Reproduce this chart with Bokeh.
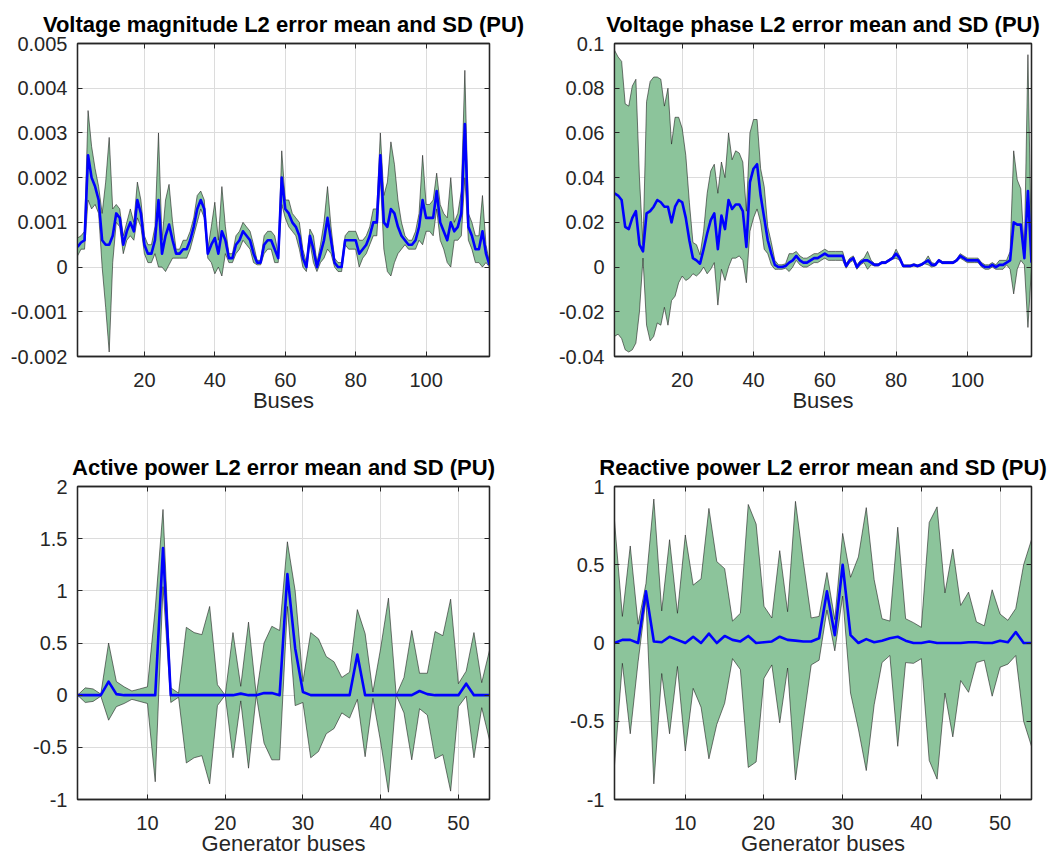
import numpy as np
from bokeh.plotting import figure
from bokeh.layouts import gridplot
from bokeh.models import FixedTicker, LinearAxis, Range1d
from bokeh.embed import file_html
from bokeh.resources import INLINE

# ---------------- data ----------------
buses = list(range(1, 119))
gen_buses = list(range(1, 55))

vm_mean = [0.00045, 0.00055, 0.0006, 0.0025, 0.002, 0.0018, 0.0015, 0.0006, 0.0005, 0.0005,
           0.0007, 0.0012, 0.0011, 0.0005, 0.0008, 0.001, 0.0008, 0.0015, 0.0012, 0.0005,
           0.0003, 0.0003, 0.0006, 0.0015, 0.0003, 0.0007, 0.00095, 0.0006, 0.0003, 0.0003,
           0.0004, 0.0004, 0.0006, 0.0009, 0.0013, 0.0015, 0.0013, 0.0003, 0.0005, 0.00065,
           0.0003, 0.0008, 0.0006, 0.0002, 0.0002, 0.0005, 0.0006, 0.0008, 0.0007, 0.0006,
           0.0003, 0.0001, 0.0001, 0.0005, 0.0006, 0.0006, 0.0004, 0.0002, 0.002, 0.0013,
           0.0012, 0.001, 0.0009, 0.0007, 0.0002, 0.0, 0.0007, 0.0004, 0.0, 0.0003,
           0.0006, 0.0011, 0.0006, 0.0001, 0.0, 0.0, 0.0006, 0.0006, 0.0006, 0.0006,
           0.0003, 0.0004, 0.0005, 0.0007, 0.001, 0.001, 0.0025, 0.001, 0.0009, 0.0013,
           0.0012, 0.0009, 0.0007, 0.0006, 0.0005, 0.0005, 0.0006, 0.0009, 0.0015, 0.0011,
           0.0011, 0.0011, 0.0017, 0.001, 0.0008, 0.0006, 0.001, 0.0008, 0.0009, 0.0012,
           0.0032, 0.0009, 0.0007, 0.0004, 0.0004, 0.0008, 0.0003, 0.00005]
vm_sd = [0.0002, 0.00015, 0.0002, 0.001, 0.0007, 0.0004, 0.0003, 0.0006, 0.0014, 0.0024,
         0.0006, 0.0002, 0.0002, 0.0002, 0.0002, 0.0003, 0.0002, 0.0004, 0.0003, 0.0002,
         0.0002, 0.0002, 0.0003, 0.0015, 0.0003, 0.0008, 0.0009, 0.0004, 0.0001, 0.0001,
         0.0002, 0.0002, 0.0002, 0.0002, 0.0003, 0.0002, 0.0002, 0.0001, 0.0004, 0.0008,
         0.0003, 0.001, 0.0003, 0.0001, 0.0001, 0.0002, 0.0002, 0.0002, 0.0002, 0.0002,
         0.0002, 0.00005, 0.00005, 0.0002, 0.0002, 0.0002, 0.0003, 0.0001, 0.0006, 0.0002,
         0.0003, 0.0002, 0.0002, 0.0003, 0.0002, 0.0001, 0.00015, 0.0003, 0.0001, 0.0002,
         0.0004, 0.0007, 0.0003, 0.0001, 0.0001, 0.0001, 0.0001, 0.0002, 0.0002, 0.0002,
         0.0003, 0.0002, 0.0002, 0.0002, 0.0003, 0.0003, 0.0005, 0.0006, 0.001, 0.0015,
         0.0011, 0.0006, 0.0003, 0.0001, 0.0001, 0.0001, 0.0002, 0.0003, 0.001, 0.0003,
         0.0003, 0.0004, 0.0004, 0.0004, 0.0004, 0.0005, 0.001, 0.0002, 0.0003, 0.0005,
         0.0012, 0.0003, 0.0003, 0.0003, 0.0003, 0.0008, 0.0002, 0.00005]

vp_mean = [0.033, 0.032, 0.03, 0.018, 0.017, 0.022, 0.025, 0.01, 0.007, 0.024,
           0.025, 0.027, 0.03, 0.029, 0.027, 0.027, 0.02, 0.027, 0.03, 0.029,
           0.022, 0.012, 0.004, 0.003, 0.0015, 0.008, 0.015, 0.021, 0.024, 0.008,
           0.023, 0.017, 0.03, 0.026, 0.028, 0.028, 0.025, 0.009, 0.038, 0.044,
           0.046, 0.032, 0.022, 0.012, 0.006, 0.001, 0.0, 0.0, 0.0005, 0.002,
           0.003, 0.005, 0.003, 0.002, 0.002, 0.003, 0.004, 0.004, 0.005, 0.006,
           0.005, 0.005, 0.005, 0.005, 0.005, 0.0005, 0.003, 0.004, 0.0, 0.002,
           0.003, 0.003, 0.002, 0.001, 0.001, 0.002, 0.002, 0.003, 0.004, 0.006,
           0.004, 0.0005, 0.0005, 0.0005, 0.001, 0.0005, 0.001, 0.002, 0.003, 0.001,
           0.001, 0.003, 0.002, 0.002, 0.002, 0.002, 0.003, 0.005, 0.004, 0.003,
           0.003, 0.003, 0.003, 0.001, 0.0, 0.0, 0.001, 0.0, 0.001, 0.001,
           0.002, 0.003, 0.02, 0.019, 0.019, 0.004, 0.034, 0.002]
vp_sd = [0.064, 0.062, 0.062, 0.055, 0.055, 0.059, 0.059, 0.03, 0.003, 0.05,
         0.058, 0.058, 0.055, 0.055, 0.045, 0.053, 0.035, 0.04, 0.037, 0.033,
         0.028, 0.017, 0.007, 0.007, 0.004, 0.008, 0.018, 0.022, 0.022, 0.025,
         0.024, 0.023, 0.03, 0.022, 0.024, 0.023, 0.022, 0.016, 0.022, 0.022,
         0.02, 0.012, 0.014, 0.006, 0.005, 0.002, 0.001, 0.001, 0.001, 0.004,
         0.003, 0.002, 0.002, 0.002, 0.002, 0.002, 0.002, 0.002, 0.002, 0.002,
         0.002, 0.002, 0.002, 0.002, 0.002, 0.001, 0.001, 0.001, 0.001, 0.001,
         0.001, 0.004, 0.001, 0.0005, 0.0005, 0.0005, 0.0005, 0.0005, 0.0005, 0.002,
         0.001, 0.0005, 0.0005, 0.0005, 0.0005, 0.0005, 0.0005, 0.0005, 0.002, 0.001,
         0.0005, 0.0005, 0.0005, 0.0005, 0.0005, 0.0005, 0.0005, 0.001, 0.001, 0.001,
         0.001, 0.001, 0.001, 0.001, 0.001, 0.001, 0.001, 0.001, 0.002, 0.002,
         0.001, 0.004, 0.032, 0.02, 0.016, 0.003, 0.061, 0.002]

ap_mean = [0, 0, 0, 0, 0.13, 0.01, 0, 0, 0, 0,
           0, 1.41, 0, 0, 0, 0, 0, 0, 0, 0,
           0, 0.015, 0, 0, 0.02, 0.02, 0.0, 1.16, 0.45, 0.03,
           0, 0, 0, 0, 0, 0, 0.39, 0, 0, 0,
           0, 0, 0, 0, 0.04, 0.01, 0, 0, 0, 0,
           0.11, 0, 0, 0]
ap_sd = [0.0, 0.07, 0.06, 0.01, 0.37, 0.12, 0.08, 0.04, 0.06, 0.08,
         0.83, 0.37, 0.07, 0.02, 0.65, 0.6, 0.58, 0.85, 0.1, 0.0,
         0.6, 0.07, 0.7, 0.0, 0.48, 0.64, 0.62, 0.31, 0.55, 0.1,
         0.6, 0.54, 0.37, 0.32, 0.17, 0.22, 0.43, 0.59, 0.03, 0.45,
         0.93, 0.0, 0.17, 0.62, 0.17, 0.2, 0.61, 0.57, 0.92, 0.11,
         0.12, 0.6, 0.12, 0.43]

rp_mean = [0.0, 0.02, 0.02, 0.0, 0.33, 0.01, 0.005, 0.04, 0.02, 0.0,
           0.04, 0.0, 0.06, 0.0, 0.045, 0.02, 0.01, 0.045, 0.0, 0.005,
           0.01, 0.04, 0.02, 0.015, 0.01, 0.01, 0.03, 0.33, 0.05, 0.5,
           0.05, 0.0, 0.025, 0.005, 0.015, 0.03, 0.04, 0.015, 0.0, 0.0,
           0.01, 0.0, 0.0, 0.0, 0.0, 0.005, 0.005, 0.0, 0.0, 0.015,
           0.005, 0.07, 0.0, 0.0]
rp_sd = [0.78, 0.15, 0.6, 0.12, 0.05, 0.91, 0.2, 0.62, 0.17, 0.69,
         0.33, 0.41, 0.8, 0.52, 0.43, 0.12, 0.18, 0.84, 0.76, 0.23,
         0.15, 0.55, 0.18, 0.89, 0.51, 0.15, 0.14, 0.12, 0.1, 0.2,
         0.37, 0.55, 0.84, 0.4, 0.14, 0.11, 0.7, 0.14, 0.13, 0.1,
         0.76, 0.87, 0.32, 0.6, 0.24, 0.32, 0.13, 0.11, 0.34, 0.17,
         0.14, 0.15, 0.5, 0.66]

titles = ["Voltage magnitude L2 error mean and SD (PU)",
          "Voltage phase L2 error mean and SD (PU)",
          "Active power L2 error mean and SD (PU)",
          "Reactive power L2 error mean and SD (PU)"]
xlabels = ["Buses", "Buses", "Generator buses", "Generator buses"]

bus_ticks = [20, 40, 60, 80, 100]
gen_ticks = [10, 20, 30, 40, 50]
vm_ticks = [-0.002, -0.001, 0.0, 0.001, 0.002, 0.003, 0.004, 0.005]
vm_tick_labels = ["-0.002", "-0.001", "0", "0.001", "0.002", "0.003", "0.004", "0.005"]
vp_ticks = [-0.04, -0.02, 0.0, 0.02, 0.04, 0.06, 0.08, 0.1]
vp_tick_labels = ["-0.04", "-0.02", "0", "0.02", "0.04", "0.06", "0.08", "0.1"]
ap_ticks = [-1.0, -0.5, 0.0, 0.5, 1.0, 1.5, 2.0]
ap_tick_labels = ["-1", "-0.5", "0", "0.5", "1", "1.5", "2"]
rp_ticks = [-1.0, -0.5, 0.0, 0.5, 1.0]
rp_tick_labels = ["-1", "-0.5", "0", "0.5", "1"]

# ---------------- style ----------------
FONT = "Liberation Sans"
GREEN = "#8cc49b"
AXC = "#262626"


def panel(x, mean, sd, title, xlabel, xr, yr, xt, yt, ylab, width, height, borders):
    lb, rb, tb, bb = borders
    p = figure(width=width, height=height, x_range=Range1d(*xr), y_range=Range1d(*yr),
               output_backend="svg", toolbar_location=None,
               min_border_left=lb, min_border_right=rb, min_border_top=tb, min_border_bottom=bb,
               background_fill_color="white", border_fill_color="white")
    x = np.asarray(x, dtype=float)
    m = np.asarray(mean, dtype=float)
    s = np.asarray(sd, dtype=float)
    up = m + s
    lo = m - s
    p.patch(np.concatenate([x, x[::-1]]), np.concatenate([up, lo[::-1]]),
            fill_color=GREEN, fill_alpha=1.0, line_color="#202020", line_width=0.6)
    p.line(x, m, line_color="#0000ff", line_width=2.6, line_join="round")

    p.title.text = title
    p.title.text_font = FONT
    p.title.text_font_size = "22px"
    p.title.text_font_style = "bold"
    p.title.text_color = "black"
    p.title.align = "center"
    p.title.standoff = 14

    p.outline_line_color = AXC
    p.outline_line_width = 1.3
    p.outline_line_alpha = 1.0

    xa = p.xaxis[0]
    xa.ticker = FixedTicker(ticks=xt)
    xa.axis_label = xlabel
    ya = p.yaxis[0]
    ya.ticker = FixedTicker(ticks=yt)
    ya.major_label_overrides = {v: t for v, t in zip(yt, ylab)}
    for ax in (xa, ya):
        ax.major_label_text_font = FONT
        ax.major_label_text_font_size = "20px"
        ax.major_label_text_color = AXC
        ax.axis_line_color = AXC
        ax.axis_line_width = 1.3
        ax.major_tick_line_color = AXC
        ax.major_tick_line_width = 1
        ax.major_tick_in = 5
        ax.major_tick_out = 0
        ax.minor_tick_line_color = None
        ax.axis_label_text_font = FONT
        ax.axis_label_text_font_size = "22px"
        ax.axis_label_text_font_style = "normal"
        ax.axis_label_text_color = AXC
    xa.major_label_standoff = 16
    xa.axis_label_standoff = -2
    ya.major_label_standoff = 10

    # mirrored tick marks on the top and right edges
    for side, tk in (("right", yt), ("above", xt)):
        mirror = LinearAxis(ticker=FixedTicker(ticks=tk), major_label_text_font_size="0px",
                            major_label_standoff=0, axis_line_color=AXC, axis_line_width=1.3,
                            major_tick_in=5, major_tick_out=0, major_tick_line_color=AXC,
                            minor_tick_line_color=None)
        mirror.major_label_overrides = {v: "" for v in tk}
        p.add_layout(mirror, side)

    p.xgrid.ticker = FixedTicker(ticks=xt)
    p.ygrid.ticker = FixedTicker(ticks=yt)
    for g in (p.xgrid[0], p.ygrid[0]):
        g.grid_line_color = "#dcdcdc"
        g.grid_line_width = 1
    return p


# top row: frame at y 43..356 ; bottom row: frame at y 486..799
p1 = panel(buses, vm_mean, vm_sd, titles[0], xlabels[0], (1, 118), (-0.002, 0.005),
           bus_ticks, vm_ticks, vm_tick_labels, 540, 424, (77, 51, 43, 68))
p2 = panel(buses, vp_mean, vp_sd, titles[1], xlabels[1], (1, 118), (-0.04, 0.1),
           bus_ticks, vp_ticks, vp_tick_labels, 518, 424, (74, 27, 43, 68))
p3 = panel(gen_buses, ap_mean, ap_sd, titles[2], xlabels[2], (1, 54), (-1, 2),
           gen_ticks, ap_ticks, ap_tick_labels, 540, 437, (72, 51, 62, 62))
p4 = panel(gen_buses, rp_mean, rp_sd, titles[3], xlabels[3], (1, 54), (-1, 1),
           gen_ticks, rp_ticks, rp_tick_labels, 518, 437, (74, 27, 62, 62))

grid = gridplot([[p1, p2], [p3, p4]], toolbar_location=None)

open("out.html", "w").write(file_html(grid, INLINE))
